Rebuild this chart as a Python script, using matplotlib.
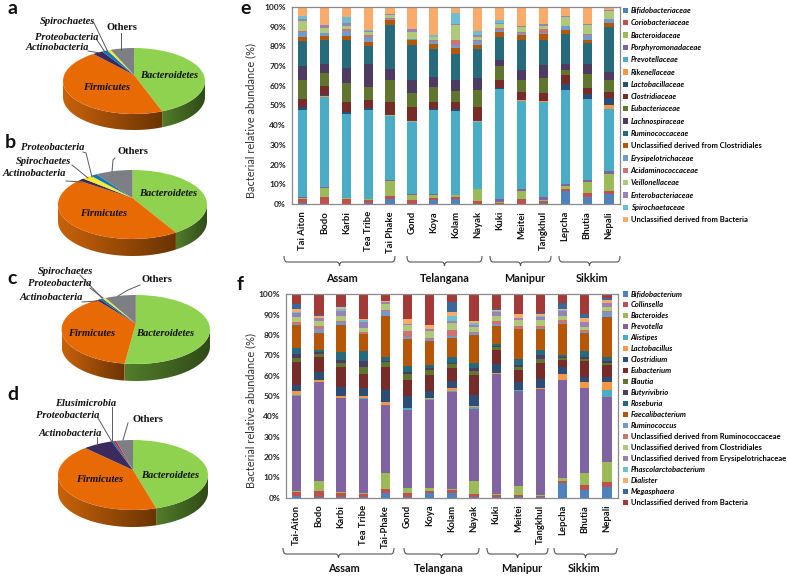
import numpy as np
import matplotlib
matplotlib.use("Agg")
import matplotlib.pyplot as plt
from matplotlib.patches import Polygon, PathPatch
from matplotlib.path import Path

W, H = 787, 578
SANS = "Lato"
SERIF = "Liberation Serif"

# pie data, degrees of the drawn ellipse turned into percent shares
pie_a_names = ["Bacteroidetes", "Firmicutes", "Actinobacteria", "Proteobacteria", "Spirochaetes", "Others"]
pie_a_values = [43.5, 46.8, 2.3, 1.3, 0.8, 5.3]
pie_b_names = ["Bacteroidetes", "Firmicutes", "Actinobacteria", "Spirochaetes", "Proteobacteria", "Others"]
pie_b_values = [40.1, 47.1, 1.3, 2.1, 1.4, 8.0]
pie_c_names = ["Bacteroidetes", "Firmicutes", "Actinobacteria", "Proteobacteria", "Spirochaetes", "Others"]
pie_c_values = [52.4, 38.8, 0.8, 0.7, 0.6, 6.7]
pie_d_names = ["Bacteroidetes", "Firmicutes", "Actinobacteria", "Proteobacteria", "Elusimicrobia", "Others"]
pie_d_values = [45.0, 44.0, 6.4, 0.5, 0.5, 3.6]

pie_colors = {"Bacteroidetes": "#8ed24f", "Firmicutes": "#e86a05", "Actinobacteria": "#3b2a5c",
              "Proteobacteria": "#1177bb", "Spirochaetes": "#f6e92e", "Elusimicrobia": "#d8202a",
              "Others": "#7e7e85"}
side_colors = {"Bacteroidetes": ("#527d2a", "#2f4a18"), "Firmicutes": ("#c8620a", "#6b3403")}

# cx, cy, rx, ry, depth, apex lift in pixels
pie_a_box = (134, 81, 71, 33, 16, 6)
pie_b_box = (132.5, 204.5, 74.5, 34.5, 17, 6.5)
pie_c_box = (135.8, 329.5, 74.2, 34.5, 17, 6)
pie_d_box = (133, 475, 75, 35, 17, 5)

# panel e, one list per population, bottom to top
e_families = ["Bifidobacteriaceae", "Coriobacteriaceae", "Bacteroidaceae", "Porphyromonadaceae",
              "Prevotellaceae", "Rikenellaceae", "Lactobacillaceae", "Clostridiaceae", "Eubacteriaceae",
              "Lachnospiraceae", "Ruminococcaceae", "Unclassified derived from Clostridiales",
              "Erysipelotrichaceae", "Acidaminococcaceae", "Veillonellaceae", "Enterobacteriaceae",
              "Spirochaetaceae", "Unclassified derived from Bacteria"]
e_labels = ["Tai Aiton", "Bodo", "Karbi", "Tea Tribe", "Tai Phake", "Gond", "Koya", "Kolam", "Nayak",
            "Kuki", "Meitei", "Tangkhul", "Lepcha", "Bhutia", "Nepali"]
e_tai_aiton = [.5, 2.2, .4, .3, 44.1, .1, 1.6, 4, 9.8, 7.2, 12.5, 2.3, 2.5, .3, 4.9, 1.3, 1.6, 4.4]
e_bodo = [.2, 3.4, 4.4, .6, 45.9, .5, .1, 4.9, 6.5, 4.7, 11.8, 2.3, 1.5, .1, 2.6, 1.5, 0, 9]
e_karbi = [.2, 2.2, .4, .2, 42.5, .2, 1, 5.3, 9.5, 7.5, 14.5, 2, 2.5, 1, 1.3, 1.7, 2.8, 5.2]
e_tea_tribe = [.5, 1.3, .5, .3, 44.9, .2, .9, 4.4, 6.5, 11.5, 9, 2, 3, 1, 1.5, .3, .7, 11.5]
e_tai_phake = [2.7, 1.5, 7.6, .6, 32.1, .5, .8, 6.2, 10.7, 6, 22.3, 2.5, .5, .2, 1.8, .5, .2, 3.3]
e_gond = [.2, 1.9, 2.4, .4, 36.9, .5, .2, 6.5, 7.2, 6.8, 17.5, 2.7, .5, .1, 3.6, 1.2, 0, 11.4]
e_koya = [2, 1.2, 1.5, .5, 42.5, .1, .2, 4, 7.5, 5, 14, 2.7, 1.5, .3, 1.8, .2, 1, 14]
e_kolam = [2.3, 1.2, .9, .2, 42.4, .1, 1.1, 3.8, 5.5, 5.5, 13, 3, 1.5, 2.5, 8, .5, 5.3, 3.2]
e_nayak = [.2, 1.3, 6, .3, 33.7, .5, .7, 6.3, 9, 6, 14.5, 2, 2, 1, 1.5, .7, 2, 12.3]
e_kuki = [.2, .5, .5, 1.3, 55.8, .2, .2, 4.3, 7, 3, 12, 2.3, 1.2, 1, 2, .5, 1.5, 6.5]
e_meitei = [.2, 2.4, 4, .8, 44.9, .3, .2, 4.2, 6, 5, 15, 3, 1, .1, 2.5, .7, 0, 9.7]
e_tangkhul = [.3, 1.2, .5, 1.3, 48.7, .1, .2, 4.2, 7.5, 6.5, 13, 3, .5, 2, 1.6, .7, 0, 8.7]
e_lepcha = [6.8, 1, 1.1, 1.1, 48, .1, 2.9, 4.5, 2.5, 3.3, 15.2, 2, 2, .1, 4.4, .5, 0, 4.5]
e_bhutia = [3.5, 2.3, 5.5, .9, 40.8, .1, 2.9, 2.6, 7.3, 5, 10.5, 1.8, 2.7, .2, 4.6, .4, 0, 8.8]
e_nepali = [5.2, 1.4, 8.7, 1.5, 31.2, 2.5, 3.5, 3, 6, 4, 23, 2, 1.7, .1, 4.4, .2, 0, 1.6]
e_table = [e_tai_aiton, e_bodo, e_karbi, e_tea_tribe, e_tai_phake, e_gond, e_koya, e_kolam, e_nayak,
           e_kuki, e_meitei, e_tangkhul, e_lepcha, e_bhutia, e_nepali]

# panel f
f_genera = ["Bifidobacterium", "Collinsella", "Bacteroides", "Prevotella", "Alistipes", "Lactobacillus",
            "Clostridium", "Eubacterium", "Blautia", "Butyrivibrio", "Roseburia", "Faecalibacterium",
            "Ruminococcus", "Unclassified derived from Ruminococcaceae",
            "Unclassified derived from Clostridiales", "Unclassified derived from Erysipelotrichaceae",
            "Phascolarctobacterium", "Dialister", "Megasphaera", "Unclassified derived from Bacteria"]
f_labels = ["Tai-Aiton", "Bodo", "Karbi", "Tea Tribe", "Tai-Phake", "Gond", "Koya", "Kolam", "Nayak",
            "Kuki", "Meitei", "Tangkhul", "Lepcha", "Bhutia", "Nepali"]
f_tai_aiton = [.6, 2.4, .4, 46.8, .1, 2, 3.2, 11, 2, 2, 3, 11.5, .5, .7, 2.6, 2.2, .1, 1.6, 2.5, 4.8]
f_bodo = [.5, 2.9, 4.8, 48.8, .1, .7, 4.2, 7, 1.5, 1, 1, 8.5, 2, 1.5, 2.5, 1.2, .1, 1.2, .3, 10.2]
f_karbi = [.3, 2.1, .3, 46.3, .1, .8, 4.6, 10, 1.7, 1.6, 3.7, 13.5, 1.2, .8, 2.2, 2.6, 1.2, 1, .1, 5.9]
f_tea_tribe = [.3, 1.4, .5, 46.5, .1, 1.1, 4.1, 7, 3.5, 2.8, 5, 8, .3, .7, 2.2, 2.7, 1, .8, .1, 11.9]
f_tai_phake = [2.5, 1.7, 7.8, 33.5, .2, 1.3, 6, 11.3, 2.2, .8, 2, 20.1, 2.3, .8, 2.5, 1, .1, .5, .1, 3.3]
f_gond = [.3, 2, 2.3, 38.6, .8, .1, 5.9, 8, 2.7, 1, 2.8, 13.5, 1, 3, 2.8, .4, .1, 2.5, .1, 12]
f_koya = [2.3, 1, 1.3, 43.6, .3, .5, 3.5, 8, 2.5, 1, 1, 12.2, .8, .7, 3.3, 1, .1, 1.9, .1, 14.9]
f_kolam = [2.5, 1.3, .7, 47.7, .1, 1.5, 3.6, 6.3, 2, .3, 3, 9.5, .8, 3.2, 3.5, 1, 2.5, 2, 4.5, 4]
f_nayak = [.4, 1.4, 6.2, 35.5, 1, .5, 5.5, 9.8, 2.2, 1.5, 2, 14, 1, .7, 2.3, 1, 1, 1, .1, 12.9]
f_kuki = [.2, 1.1, .7, 58.7, .1, .7, 4, 7.2, 1.6, .4, .7, 9.1, .8, 1.7, 2.5, 2, .2, .8, .1, 7.4]
f_meitei = [.3, 1, 4.5, 46.7, .4, .1, 4, 6, 1.5, .8, 3.1, 14.3, .3, 1.2, 3.1, 1, .1, 1.9, .1, 9.6]
f_tangkhul = [.2, .6, .5, 52, .1, .3, 4.5, 7.8, 2.4, 2, 2, 10.6, .3, 1.2, 3, 1.2, .8, 1, .1, 9.4]
f_lepcha = [7, 1.3, 1.2, 48.2, .1, 2.9, 3.8, 3, 1, .5, 1.3, 15, .5, 1.7, 2, 2.2, .6, .7, 2.8, 4.2]
f_bhutia = [4, 2.2, 6, 41.6, .1, 3.1, 2.3, 8, 1.2, .7, 2.8, 9, .7, .6, 1.7, 2.5, .1, 1.8, 2, 9.7]
f_nepali = [5.5, 2.2, 9.7, 32.4, 3, 3.9, 2.6, 5.9, 1, 1.3, 1.5, 19.9, 2.4, .8, 1.8, 2, .1, 1.1, 1, 2]
f_table = [f_tai_aiton, f_bodo, f_karbi, f_tea_tribe, f_tai_phake, f_gond, f_koya, f_kolam, f_nayak,
           f_kuki, f_meitei, f_tangkhul, f_lepcha, f_bhutia, f_nepali]

excel_colors = ["#4f81bd", "#c0504d", "#9bbb59", "#8064a2", "#4bacc6", "#f79646", "#2c4d75", "#772c2a",
                "#5f7530", "#4d3b62", "#276a7c", "#b65708", "#729aca", "#cd7371", "#afc97a", "#9983b5",
                "#6fbdd1", "#f9ab6b", "#3a679c", "#a33a38"]
e_colors = excel_colors[:18]
f_colors = excel_colors[:20]

not_italic = ("Unclassified")
y_ticks = np.arange(0, 101, 10)

# brace x0, x1 and group label x
e_groups = [("Assam", 284, 395, 342), ("Telangana", 407, 482, 445), ("Manipur", 490, 551, 525), ("Sikkim", 559, 620, 592)]
f_groups = [("Assam", 283, 394, 344), ("Telangana", 404, 479, 439), ("Manipur", 487, 548, 522), ("Sikkim", 554, 617, 584)]

# pie text: label, x, y, leader points (pixels)
pie_a_text = [("Spirochaetes", 68, 22, [(94, 23), (107.5, 51)]),
              ("Proteobacteria", 67, 37, [(97, 40), (105, 52)]),
              ("Actinobacteria", 57, 47, [(88, 51), (100, 53)]),
              ("Others", 122, 27, [(121, 33), (121, 50)])]
pie_b_text = [("Proteobacteria", 53, 148, [(83, 152), (86, 153), (92, 177)]),
              ("Spirochaetes", 44, 161, [(72, 165), (88, 178)]),
              ("Actinobacteria", 34, 174, [(66, 181), (82, 182)]),
              ("Others", 133, 152, [(115, 158), (113, 160), (112, 172)])]
pie_c_text = [("Spirochaetes", 66, 271, [(80, 275), (102, 298)]),
              ("Proteobacteria", 60, 284, [(90, 288), (103, 298)]),
              ("Actinobacteria", 51, 297, [(82, 302), (97, 301)]),
              ("Others", 157, 280, [(140, 285), (128, 290), (118, 296)])]
pie_d_text = [("Elusimicrobia", 86, 404, [(112, 407), (112, 442)]),
              ("Proteobacteria", 68, 416, [(98, 418), (112, 442)]),
              ("Actinobacteria", 70, 433, [(97, 437), (97, 445)]),
              ("Others", 148, 420, [(128, 423), (123, 440)])]

fig = plt.figure(figsize=(W / 100, H / 100), dpi=100)


def pixel_axes(x0, y0, x1, y1):
    return fig.add_axes([x0 / W, 1 - y1 / H, (x1 - x0) / W, (y1 - y0) / H])


def draw_pie(names, values, box):
    cx, cy, rx, ry, depth, lift = box
    ax = pixel_axes(cx - rx - 2, cy - ry - 2, cx + rx + 2, cy + ry + depth + 2)
    d = depth / ry
    wedges, _ = ax.pie(values, colors=[pie_colors[n] for n in names], startangle=90, counterclock=False,
                       wedgeprops={"linewidth": 0})
    # the apex sits a little behind the middle of the ellipse, as on a tilted 3d pie
    for w in wedges:
        v = w.get_path().vertices
        near = np.hypot(v[:, 0], v[:, 1]) < 0.01
        v[near, 1] += lift / ry
        w.set_zorder(3)
    # side wall of the slices on the front half
    for name, w in zip(names, wedges):
        if name not in side_colors:
            continue
        a0 = (min(w.theta1, w.theta2)) % 360
        a1 = a0 + abs(w.theta2 - w.theta1)
        spans = [(max(a0, 180), min(a1, 360)), (max(a0 - 360, 180), min(a1 - 360, 360))]
        for s0, s1 in spans:
            if s1 <= s0:
                continue
            t = np.radians(np.linspace(s0, s1, 80))
            top = np.column_stack([np.cos(t), np.sin(t)])
            low = top[::-1] - [0, d]
            poly = Polygon(np.vstack([top, low]), closed=True, transform=ax.transData, fc="none", ec="none")
            ax.add_patch(poly)
            c0, c1 = [np.array(matplotlib.colors.to_rgb(c)) for c in side_colors[name]]
            ramp = np.linspace(0, 1, 64)[None, :, None]
            img = ax.imshow(c0 + (c1 - c0) * ramp, extent=(top[:, 0].min(), top[:, 0].max(), -1 - d, 0),
                            aspect="auto", zorder=2, interpolation="bilinear")
            img.set_clip_path(poly)
    ax.set_aspect("auto")
    ax.set_xlim(-1 - 2 / rx, 1 + 2 / rx)
    ax.set_ylim(-1 - d - 2 / ry, 1 + 2 / ry)


def draw_bars(rect, table, names, colors, labels):
    ax = pixel_axes(*rect)
    vals = np.array(table, dtype=float).T
    vals = vals / vals.sum(axis=0) * 100
    x = np.arange(len(labels))
    bottom = np.zeros(len(labels))
    for row, name, col in zip(vals, names, colors):
        ax.bar(x, row, 0.42, bottom=bottom, color=col, label=name, linewidth=0)
        bottom += row
    ax.set_xlim(-0.5, len(labels) - 0.5)
    ax.set_ylim(0, 100)
    ax.set_yticks(y_ticks)
    ax.set_yticklabels([f"{t}%" for t in y_ticks], fontsize=6, fontweight="bold", family=SANS, color="#222222")
    ax.set_xticks(x)
    ax.set_xticklabels(labels, rotation=90, fontsize=6.8, fontweight="bold", family=SANS, color="#111111")
    ax.tick_params(length=0, axis="both")
    ax.tick_params(axis="x", pad=5)
    ax.tick_params(axis="y", pad=4)
    for s in ax.spines.values():
        s.set_color("#8a8a8a")
        s.set_linewidth(0.9)
    return ax


def add_legend(ax, anchor, spacing):
    leg = ax.legend(loc="upper left", bbox_to_anchor=anchor, bbox_transform=fig.transFigure, frameon=False,
                    labelspacing=spacing, handlelength=0.7, handleheight=0.7,
                    handletextpad=0.35, borderpad=0, borderaxespad=0,
                    prop={"family": SANS, "size": 5.5, "weight": "bold"})
    for t in leg.get_texts():
        if not t.get_text().startswith(not_italic):
            t.set_style("italic")


draw_pie(pie_a_names, pie_a_values, pie_a_box)
draw_pie(pie_b_names, pie_b_values, pie_b_box)
draw_pie(pie_c_names, pie_c_values, pie_c_box)
draw_pie(pie_d_names, pie_d_values, pie_d_box)

ax_e = draw_bars((291.5, 7, 620, 204), e_table, e_families, e_colors, e_labels)
ax_f = draw_bars((285.7, 294.3, 618, 497.7), f_table, f_genera, f_colors, f_labels)
add_legend(ax_e, (622.5 / W, 1 - 7 / H), 0.695)
add_legend(ax_f, (622.5 / W, 1 - 290.5 / H), 0.523)

# overlay in pixels for labels, leaders, braces
over = fig.add_axes([0, 0, 1, 1], zorder=10)
over.set_xlim(0, W)
over.set_ylim(H, 0)
over.axis("off")


def pie_text(rows):
    for label, x, y, pts in rows:
        xs, ys = zip(*pts)
        over.plot(xs, ys, color="#5a5a5a", lw=0.7, zorder=1)
        style = "normal" if label == "Others" else "italic"
        over.text(x, y, label, ha="center", va="center", family=SERIF, fontsize=7.6, fontweight="bold",
                  style=style, color="#111111", zorder=2)


pie_text(pie_a_text)
pie_text(pie_b_text)
pie_text(pie_c_text)
pie_text(pie_d_text)

for x, y, name in [(169, 75, "Bacteroidetes"), (107, 87, "Firmicutes"), (168, 193, "Bacteroidetes"),
                   (104, 213, "Firmicutes"), (165, 333, "Bacteroidetes"), (92, 333, "Firmicutes"),
                   (170, 475, "Bacteroidetes"), (100, 479, "Firmicutes")]:
    over.text(x, y, name, ha="center", va="center", family=SERIF, fontsize=7.6, fontweight="bold",
              style="italic", color="#111111")

for x, y, letter in [(12, 8, "a"), (10, 142, "b"), (12, 278, "c"), (12.7, 395, "d"), (246, 8, "e"), (240, 284, "f")]:
    over.text(x, y, letter, ha="center", va="center", family=SANS, fontsize=14, fontweight="bold", color="#111111")

over.text(251, 120, "Bacterial relative abundance (%)", rotation=90, ha="center", va="center", family=SANS,
          fontsize=7.9, color="#333333")
over.text(251, 411, "Bacterial relative abundance (%)", rotation=90, ha="center", va="center", family=SANS,
          fontsize=7.9, color="#333333")


def brace(x0, x1, y, h):
    # curly bracket opening upward with a tip at the middle
    mid = (x0 + x1) / 2
    verts = [(x0, y), (x0, y + h), (x0 + 3, y + h), (mid - 3, y + h), (mid, y + h), (mid, y + h + 4),
             (mid, y + h), (mid + 3, y + h), (x1 - 3, y + h), (x1, y + h), (x1, y)]
    codes = [Path.MOVETO, Path.CURVE3, Path.CURVE3, Path.LINETO, Path.CURVE3, Path.CURVE3,
             Path.CURVE3, Path.CURVE3, Path.LINETO, Path.CURVE3, Path.CURVE3]
    over.add_patch(PathPatch(Path(verts, codes), fc="none", ec="#555555", lw=0.8))


for name, x0, x1, tx in e_groups:
    brace(x0, x1, 256, 6)
    over.text(tx, 278, name, ha="center", va="center", family=SANS, fontsize=7.8, fontweight="bold", color="#111111")
for name, x0, x1, tx in f_groups:
    brace(x0, x1, 548, 6)
    over.text(tx, 568.5, name, ha="center", va="center", family=SANS, fontsize=7.8, fontweight="bold", color="#111111")

fig.savefig("out.png", dpi=100)
